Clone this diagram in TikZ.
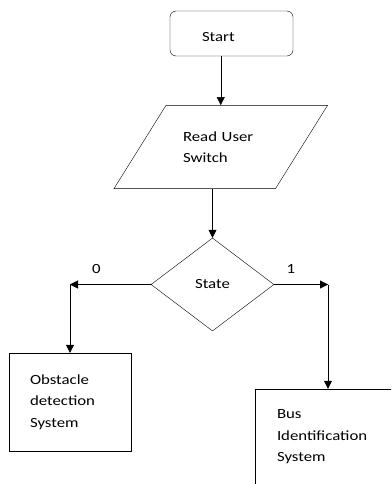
\documentclass[tikz,border=0pt]{standalone}
\usepackage{fontspec}
\setmainfont{Carlito}[FakeStretch=1.2]
\usetikzlibrary{shapes.geometric,arrows.meta,calc}
\tikzset{term/.style={draw, rounded corners=6pt, minimum width=123pt, minimum height=45pt, inner xsep=32pt, text width=59pt, text height=15.5pt, align=left},
  io/.style={draw, trapezium, trapezium left angle=58, trapezium right angle=122, text width=75.5pt, inner xsep=17pt, inner ysep=26pt, align=left},
  test/.style={draw, diamond, minimum width=123pt, minimum height=93pt, inner sep=0pt},
  proc/.style={draw, rectangle, inner xsep=21pt, align=left},
  >={Triangle[length=8pt,width=8pt]}, line width=0.9pt, font=\fontsize{14pt}{21.5pt}\selectfont}

\begin{document}
\begin{tikzpicture}[x=1pt,y=-1pt]
    \useasboundingbox (0,0) rectangle (391,484);
    \clip (0,0) rectangle (391,484);
    \node[term] (start) at (231.5,33.5) {Start};
    \node[io] (read) at (220.75,147) {Read User\\Switch};
    \node[test] (state) at (212.5,284.5) {State};
    \node[proc, text width=80pt, minimum width=122pt, minimum height=98pt] (obst) at (70,402) {Obstacle\\detection\\System};
    \node[proc, text width=102pt, minimum width=146pt, minimum height=96pt] (bus) at (328,437) {Bus\\Identification\\System};
    \coordinate (c0) at (obst.north |- state.west);
    \coordinate (c1) at (bus.north |- state.east);
    \draw[->] (read.center |- start.south) -- (read.center |- read.north);
    \draw[->] (state.north |- read.south) -- (state.north);
    \draw[->] (state.west) -- node[pos=0.675, above=7pt] (lab0) {0} (c0);
    \draw[->] (c0) -- (obst.north);
    \draw[->] (state.east) -- node[pos=0.31, above=7pt] (lab1) {1} (c1);
    \draw[->] (c1) -- (bus.north);
\end{tikzpicture}
\end{document}
